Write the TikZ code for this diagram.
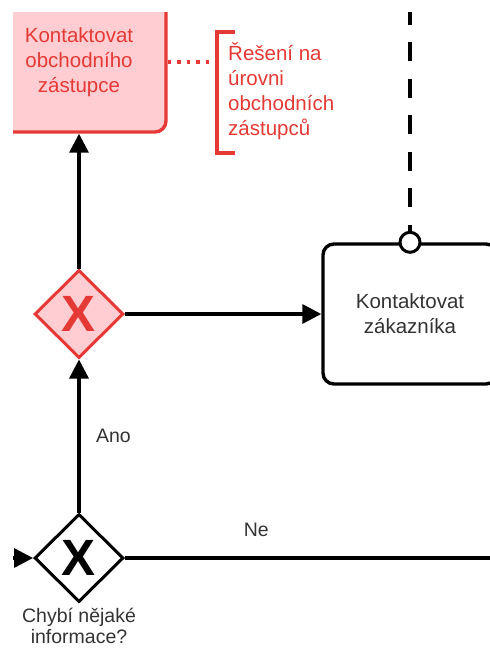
\documentclass[tikz,border=0pt]{standalone}
\usepackage{fontspec}
\setmainfont{Liberation Sans}
\usetikzlibrary{shapes.geometric, arrows.meta, positioning, calc}
\definecolor{bpred}{RGB}{229,57,53}
\definecolor{bppink}{RGB}{255,205,210}
\definecolor{bptext}{RGB}{51,51,51}

\begin{document}
\begin{tikzpicture}[x=1pt, y=-1pt,
  task/.style={rectangle, rounded corners=11pt, draw=black, fill=white, line width=3.4pt, minimum width=174pt, minimum height=140pt, align=center, text=bptext, font=\fontsize{20.5}{25}\selectfont},
  redtask/.style={task, draw=bpred, fill=bppink, text=bpred},
  gateway/.style={diamond, draw=black, fill=white, line width=3pt, minimum width=89pt, minimum height=88pt, inner sep=0pt, font=\fontsize{51}{51}\selectfont\bfseries},
  redgateway/.style={gateway, draw=bpred, fill=bppink, text=bpred},
  lbl/.style={text=bptext, font=\fontsize{19.5}{21}\selectfont, align=center},
  flow/.style={-{Triangle[length=19pt, width=19pt]}, line width=3.4pt},
  msg/.style={line width=3.2pt, dash pattern=on 19pt off 17.5pt},
  assoc/.style={draw=bpred, line width=3.4pt, dash pattern=on 3.5pt off 6pt},
  bracket/.style={draw=bpred, line width=3.4pt}
]
\useasboundingbox (0,0) rectangle (490,648);
\begin{scope}
\clip (13,12) rectangle (490,648);
% tasks and gateways
\node[redtask] (rep) at (79,62) {Kontaktovat\\obchodního\\zástupce};
\node[redgateway] (gwrep) at (79,314) {X};
\node[gateway] (gwinfo) at (79,558) {X};
\node[lbl, below=4pt of gwinfo, inner sep=0pt] (infolbl) {Chybí nějaké\\informace?};
\node[task] (cust) at (410,314) {Kontaktovat\\zákazníka};
\node[circle, draw, fill=white, line width=3pt, minimum size=20pt, inner sep=0pt] (msgin) at (cust.north) {};
% annotation
\node[text=bpred, font=\fontsize{20.5}{25}\selectfont, align=left, anchor=west, inner sep=0pt] (note) at (228,91) {Řešení na\\úrovni\\obchodních\\zástupců};
\coordinate (start) at (0,558);
\coordinate (neend) at (500,558);
\coordinate (msgtop) at (410,5.5);
\coordinate (brtop) at (217,32);
\coordinate (brbot) at (217,153);
% sequence flows
\draw[flow] (start) -- (gwinfo);
\draw[flow] (gwinfo) -- node[lbl, right=12pt] {Ano} (gwrep);
\draw[line width=3.4pt] (gwinfo) -- node[lbl, above=16pt, pos=0.35] {Ne} (neend);
\draw[flow] (gwrep) -- (rep);
\draw[flow] (gwrep) -- (cust);
% message flow and association
\draw[msg] (msgtop) -- (msgin);
\draw[assoc] (rep.east) -- (rep.east -| brtop);
\draw[bracket] ([xshift=18pt]brtop) -- (brtop) -- (brbot) -- ([xshift=18pt]brbot);
\end{scope}
\end{tikzpicture}
\end{document}
